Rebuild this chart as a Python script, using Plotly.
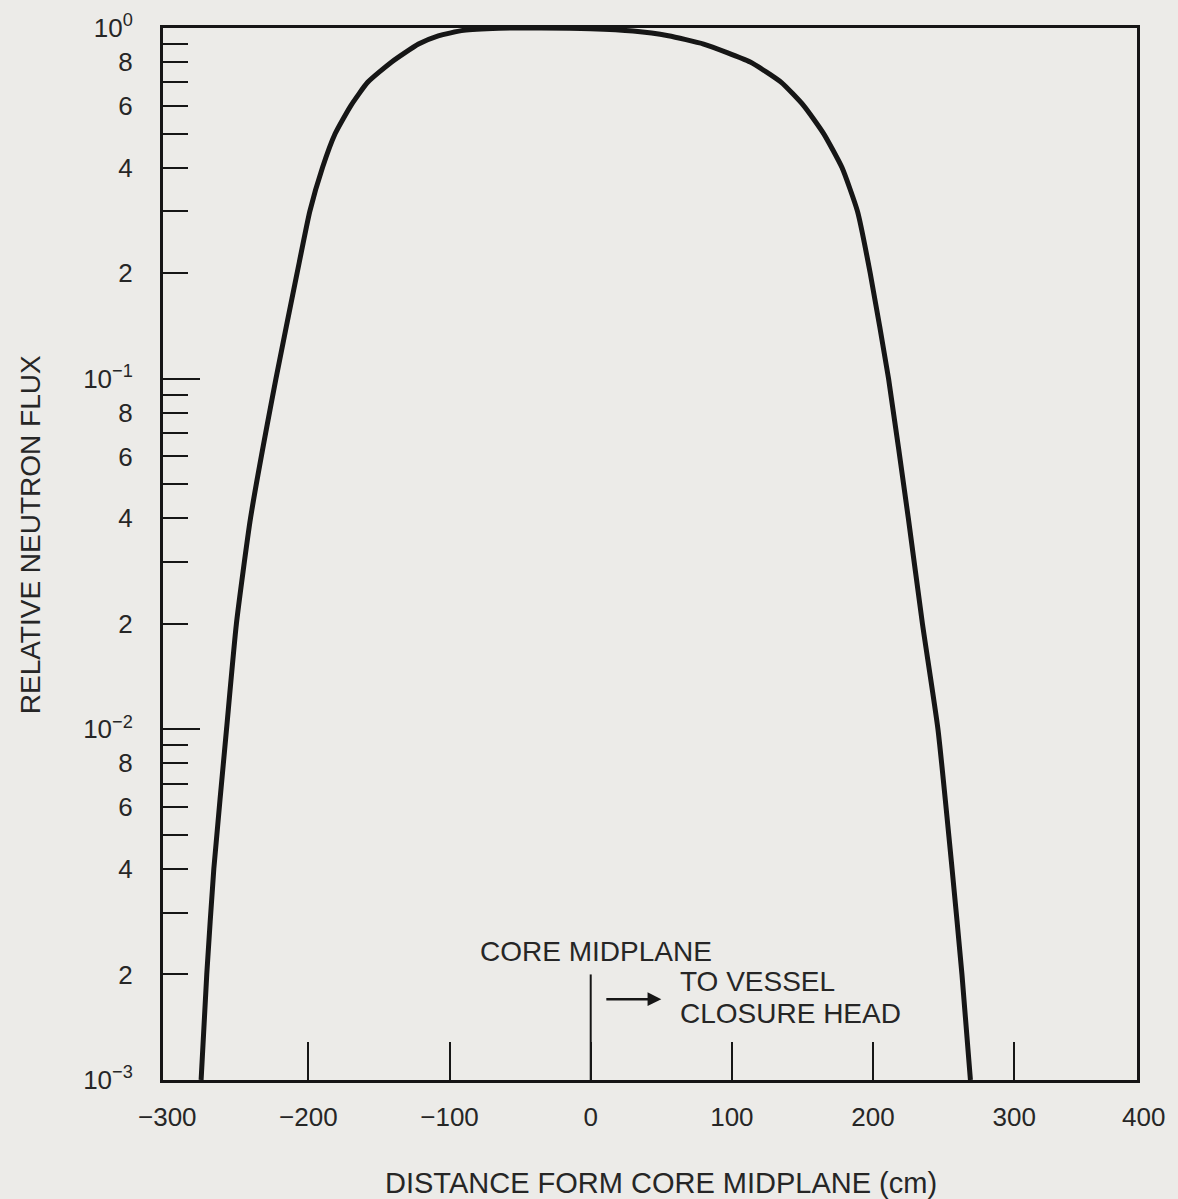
import plotly.graph_objects as go
import math

# Curve data (distance in cm, relative flux)
distance_cm = [-276, -272, -267, -258, -251, -241, -223, -208, -199, -190, -181, -170,
               -158, -141, -122, -108, -90, -65, -35, 0, 30, 55, 80, 113, 135,
               151, 165, 178, 189, 198, 211, 225, 235, 246, 256, 263, 269]
relative_flux = [0.001, 0.002, 0.004, 0.010, 0.020, 0.040, 0.100, 0.200, 0.300, 0.400,
                 0.500, 0.600, 0.700, 0.800, 0.900, 0.950, 0.985, 0.998, 1.0, 0.995,
                 0.980, 0.950, 0.900, 0.800, 0.700, 0.600, 0.500, 0.400, 0.300, 0.200,
                 0.100, 0.040, 0.020, 0.010, 0.004, 0.002, 0.001]

# Axis ticks
x_tickvals = [-200, -100, 0, 100, 200, 300]
x_ticktext = ["\u2212200", "\u2212100", "0", "100", "200", "300"]
x_first_label = "\u2212300"
x_last_label = "400"

decades = [1e-3, 1e-2, 1e-1, 1e0]
decade_text = ["10<sup>\u22123</sup>", "10<sup>\u22122</sup>", "10<sup>\u22121</sup>", "10<sup>0</sup>"]
mantissas = [2, 3, 4, 5, 6, 7, 8, 9]
mantissa_labels = {2: "2", 4: "4", 6: "6", 8: "8"}

x_title = "DISTANCE FORM CORE MIDPLANE (cm)"
y_title = "RELATIVE NEUTRON FLUX"

# Core midplane marker and arrow
midplane_x = [0, 0]
midplane_y = [0.001, 0.002]
arrow_tail_x, arrow_head_x, arrow_y = 10, 50, 0.00170

y_tickvals, y_ticktext = [], []
for i, d in enumerate(decades):
    y_tickvals.append(d)
    y_ticktext.append(decade_text[i])
    if d < 1:
        for m in mantissas:
            y_tickvals.append(m * d)
            y_ticktext.append(mantissa_labels.get(m, ""))

INK = "#161616"
TXT = "#262626"
BG = "#ecebe8"
FONT = "Liberation Sans, Arial, sans-serif"
X_MIN, X_MAX = -303, 387

fig = go.Figure()
fig.add_trace(go.Scatter(
    x=distance_cm, y=relative_flux, mode="lines",
    line=dict(color=INK, width=5, shape="spline", smoothing=0.5),
    showlegend=False, hoverinfo="skip"))
fig.add_trace(go.Scatter(
    x=midplane_x, y=midplane_y, mode="lines",
    line=dict(color=INK, width=2), showlegend=False, hoverinfo="skip"))

fig.update_layout(
    width=1178, height=1199,
    margin=dict(l=163, r=41, t=28, b=119),
    paper_bgcolor=BG, plot_bgcolor=BG,
    font=dict(family=FONT, color=TXT, size=26),
    xaxis=dict(
        range=[X_MIN, X_MAX], showgrid=False, zeroline=False, automargin=False,
        showline=True, linecolor=INK, linewidth=3, mirror=True,
        ticks="inside", ticklen=38, tickwidth=2, tickcolor=INK,
        tickmode="array", tickvals=x_tickvals, ticktext=x_ticktext,
        ticklabelstandoff=12, tickfont=dict(size=26, color=TXT),
    ),
    yaxis=dict(
        type="log", range=[-3, 0], showgrid=False, zeroline=False, automargin=False,
        showline=True, linecolor=INK, linewidth=3, mirror=True,
        ticks="inside", ticklen=25, tickwidth=2, tickcolor=INK,
        tickmode="array", tickvals=y_tickvals, ticktext=y_ticktext,
        ticklabelstandoff=22, tickfont=dict(size=26, color=TXT),
        minor=dict(tickmode="array", tickvals=[1e-2, 1e-1], ticks="inside",
                   ticklen=37, tickwidth=2, tickcolor=INK, showgrid=False),
    ),
)

# Edge tick labels (-300 at the frame corner, 400 just past the right frame)
fig.add_annotation(x=(-300 - X_MIN) / (X_MAX - X_MIN), y=0, xref="paper", yref="paper",
                   text=x_first_label, showarrow=False, xanchor="center", yanchor="top",
                   yshift=-20, font=dict(size=26, color=TXT))
fig.add_annotation(x=1.007, y=0, xref="paper", yref="paper",
                   text=x_last_label, showarrow=False, xanchor="center", yanchor="top",
                   yshift=-20, font=dict(size=26, color=TXT))

# Axis titles
fig.add_annotation(x=0.511, y=-0.098, xref="paper", yref="paper", text=x_title,
                   showarrow=False, xanchor="center", yanchor="middle",
                   font=dict(size=29, color=TXT))
fig.add_annotation(x=-0.1364, y=0.518, xref="paper", yref="paper", text=y_title,
                   textangle=-90, showarrow=False, xanchor="center", yanchor="middle",
                   font=dict(size=28, color=TXT))

fig.add_annotation(x=arrow_head_x, y=math.log10(arrow_y), ax=arrow_tail_x,
                   ay=math.log10(arrow_y), xref="x", yref="y", axref="x", ayref="y",
                   showarrow=True, arrowhead=2, arrowsize=1.1, arrowwidth=2.5,
                   arrowcolor=INK, text="")
fig.add_annotation(x=4, y=math.log10(0.00232), xref="x", yref="y",
                   text="CORE MIDPLANE", showarrow=False, xanchor="center",
                   yanchor="middle", font=dict(size=28, color=TXT))
fig.add_annotation(x=62, y=math.log10(0.00191), xref="x", yref="y",
                   text="TO VESSEL", showarrow=False, xanchor="left",
                   yanchor="middle", align="left", font=dict(size=28, color=TXT))
fig.add_annotation(x=62, y=math.log10(0.00155), xref="x", yref="y",
                   text="CLOSURE HEAD", showarrow=False, xanchor="left",
                   yanchor="middle", align="left", font=dict(size=28, color=TXT))

fig.write_html("out.html")
